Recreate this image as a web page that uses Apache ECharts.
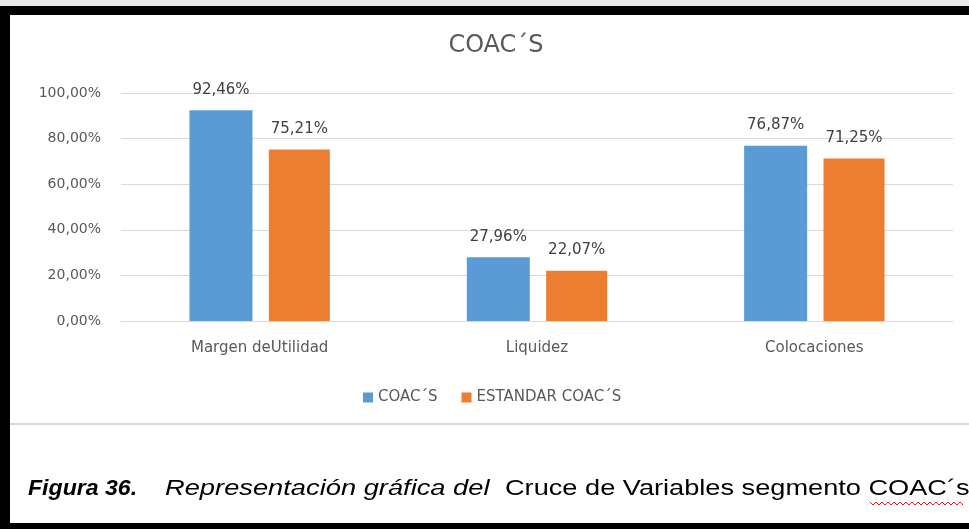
<!DOCTYPE html>
<html>
<head>
<meta charset="utf-8">
<script src="https://cdn.jsdelivr.net/npm/echarts@6/dist/echarts.min.js"></script>
<style>
  html, body { margin: 0; padding: 0; background: #fff; }
  #chart { width: 969px; height: 529px; }
</style>
</head>
<body>
<div id="chart"></div>
<script>
const categories = ['Margen deUtilidad', 'Liquidez', 'Colocaciones'];
const coacValues = [92.46, 27.96, 76.87];
const estandarValues = [75.21, 22.07, 71.25];
const seriesNames = ['COAC´S', 'ESTANDAR COAC´S'];

const myChart = echarts.init(document.getElementById('chart'));

function pct(v) {
  return v.toFixed(2).replace('.', ',') + '%';
}

const labelStyle = {
  show: true,
  position: 'top',
  distance: 13,
  fontFamily: 'DejaVu Sans',
  fontSize: 15,
  color: '#404040',
  formatter: p => pct(p.value)
};

// squiggle under COAC´s (spell-check mark)
const squiggle = [];
for (let x = 870; x <= 964; x += 3) {
  squiggle.push([x, (x - 870) % 6 === 0 ? 502 : 505]);
}

const captionFont = 'Liberation Sans';

const option = {
  animation: false,
  backgroundColor: '#fff',
  title: {
    text: 'COAC´S',
    left: 491,
    top: 29,
    textAlign: 'center',
    textStyle: { fontFamily: 'DejaVu Sans', fontSize: 24, fontWeight: 'normal', color: '#595959' }
  },
  legend: {
    data: seriesNames,
    left: 358,
    top: 385,
    itemWidth: 10,
    itemHeight: 10,
    itemGap: 24,
    icon: 'rect',
    textStyle: { fontFamily: 'DejaVu Sans', fontSize: 15, color: '#595959' }
  },
  grid: { left: 121, right: 16, top: 93, height: 228 },
  xAxis: {
    type: 'category',
    data: categories,
    axisTick: { show: false },
    axisLine: { lineStyle: { color: '#d9d9d9' } },
    axisLabel: { fontFamily: 'DejaVu Sans', fontSize: 15, color: '#595959', margin: 20 }
  },
  yAxis: {
    type: 'value',
    min: 0,
    max: 100,
    interval: 20,
    axisLine: { show: false },
    axisTick: { show: false },
    splitLine: { lineStyle: { color: '#d9d9d9' } },
    axisLabel: {
      fontFamily: 'DejaVu Sans', fontSize: 14, color: '#595959', margin: 20,
      formatter: v => pct(v)
    }
  },
  series: [
    {
      name: seriesNames[0],
      type: 'bar',
      data: coacValues,
      barWidth: 63,
      barGap: '26%',
      itemStyle: { color: '#5B9BD5' },
      label: labelStyle
    },
    {
      name: seriesNames[1],
      type: 'bar',
      data: estandarValues,
      barWidth: 61,
      itemStyle: { color: '#ED7D31' },
      label: labelStyle
    }
  ],
  graphic: [
    { type: 'rect', shape: { x: 0, y: 0, width: 969, height: 6 }, style: { fill: '#e8e8e8' } },
    { type: 'rect', shape: { x: 0, y: 6, width: 969, height: 9 }, style: { fill: '#000' } },
    { type: 'rect', shape: { x: 0, y: 6, width: 10, height: 523 }, style: { fill: '#000' } },
    { type: 'rect', shape: { x: 0, y: 523, width: 969, height: 6 }, style: { fill: '#000' } },
    { type: 'rect', shape: { x: 10, y: 423, width: 959, height: 2 }, style: { fill: '#d9d9d9' } },
    {
      type: 'text', x: 28, y: 478, scaleX: 1.05,
      style: { text: 'Figura 36.', fontFamily: captionFont, fontSize: 22, fontWeight: 'bold', fontStyle: 'italic', fill: '#000', verticalAlign: 'top' }
    },
    {
      type: 'text', x: 165, y: 478, scaleX: 1.24,
      style: { text: 'Representación gráfica del', fontFamily: captionFont, fontSize: 22, fontStyle: 'italic', fill: '#000', verticalAlign: 'top' }
    },
    {
      type: 'text', x: 505, y: 478, scaleX: 1.235,
      style: { text: 'Cruce de Variables segmento COAC´s.', fontFamily: captionFont, fontSize: 22, fill: '#000', verticalAlign: 'top' }
    },
    {
      type: 'polyline', shape: { points: squiggle },
      style: { stroke: '#e02020', lineWidth: 1, fill: null }
    }
  ]
};

myChart.setOption(option);
</script>
</body>
</html>
